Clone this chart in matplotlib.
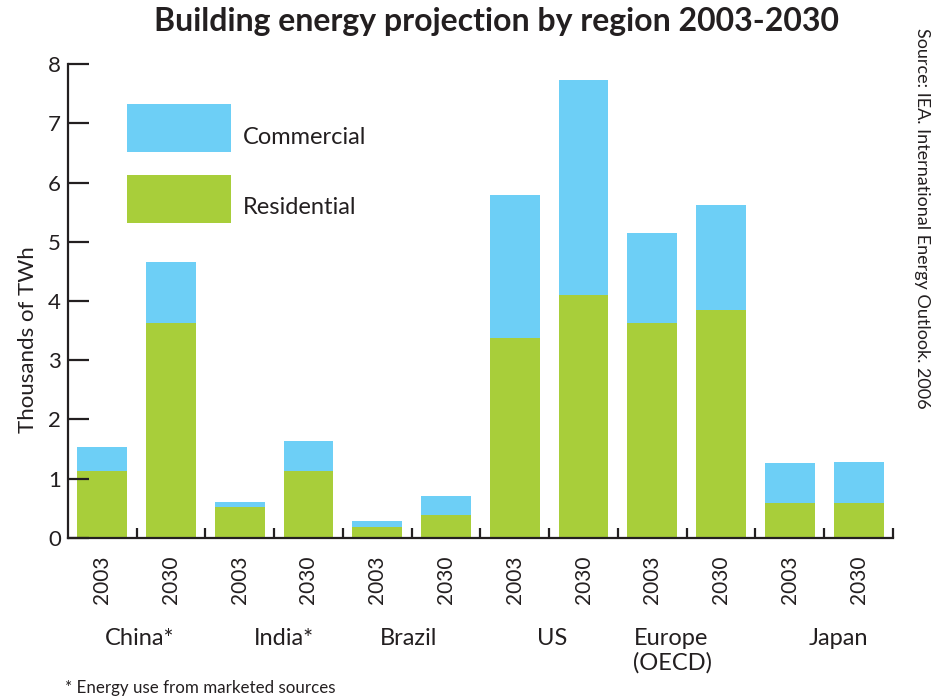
"""Building energy projection by region, stacked bars."""
import numpy as np
import matplotlib
matplotlib.use("Agg")
import matplotlib.pyplot as plt

plt.rcParams["font.family"] = ["Lato", "DejaVu Sans"]

regions = ["China*", "India*", "Brazil", "US", "Europe\n(OECD)", "Japan"]
years = ["2003", "2030"] * 6
residential = [1.12, 3.62, 0.51, 1.12, 0.18, 0.38, 3.38, 4.10, 3.62, 3.85, 0.59, 0.59]
total = [1.53, 4.66, 0.60, 1.63, 0.28, 0.70, 5.79, 7.73, 5.15, 5.62, 1.26, 1.28]
commercial = [t - r for t, r in zip(total, residential)]

BLUE = "#6dcff6"
GREEN = "#a8ce3a"
INK = "#231f20"

fig = plt.figure(figsize=(9.42, 6.99), dpi=100)
ax = fig.add_axes([0.0719, 0.2308, 0.948 - 0.0719, 0.908 - 0.2308])

x = np.arange(len(years))
ax.bar(x, residential, width=0.725, color=GREEN, linewidth=0)
ax.bar(x, commercial, width=0.725, bottom=residential, color=BLUE, linewidth=0)

ax.set_xlim(-0.5, 11.5)
ax.set_ylim(0, 8)
for s in ["top", "right"]:
    ax.spines[s].set_visible(False)
for s in ["left", "bottom"]:
    ax.spines[s].set_color(INK)
    ax.spines[s].set_linewidth(1.6)

ax.set_yticks(range(9))
ax.tick_params(axis="y", direction="in", length=15, width=1.6, color=INK,
               labelsize=16, labelcolor=INK, pad=5)
ax.set_xticks(x)
ax.set_xticklabels(years, rotation=90, fontsize=15, color=INK)
ax.tick_params(axis="x", which="major", length=0, pad=13)
ax.set_xticks(np.arange(0.5, 12, 1), minor=True)
ax.tick_params(axis="x", which="minor", direction="in", length=7, width=1.6, color=INK)

ax.set_ylabel("Thousands of TWh", fontsize=16, color=INK)
ax.yaxis.set_label_coords(-0.036, 0.418)

# region names under each pair of years
label_shift = [0.05, 0.15, -0.05, 0.05, -0.2, 0.2]
for i, name in enumerate(regions):
    xc = 2 * i + 0.5 + label_shift[i]
    ax.text(xc, -0.19, name, transform=ax.get_xaxis_transform(), ha="center", va="top",
            fontsize=17, color=INK, multialignment="left")

# legend drawn as plain boxes
fig.patches.append(plt.Rectangle((127 / 942, 1 - 152 / 699), 104 / 942, 48 / 699,
                                 transform=fig.transFigure, color=BLUE, lw=0))
fig.patches.append(plt.Rectangle((127 / 942, 1 - 223 / 699), 104 / 942, 48 / 699,
                                 transform=fig.transFigure, color=GREEN, lw=0))
fig.text(243 / 942, 1 - 137 / 699, "Commercial", fontsize=17, color=INK, va="center")
fig.text(243 / 942, 1 - 208 / 699, "Residential", fontsize=17, color=INK, va="center")

fig.text(497 / 942, 1 - 22 / 699, "Building energy projection by region 2003-2030",
         fontsize=23, fontweight="bold", color=INK, ha="center", va="center")
fig.text(922 / 942, 1 - 28 / 699, "Source: IEA. International Energy Outlook. 2006",
         rotation=-90, fontsize=13, color=INK, ha="center", va="top")
fig.text(65 / 942, 1 - 688 / 699, "* Energy use from marketed sources",
         fontsize=12.2, color=INK, ha="left", va="center")

fig.savefig("out.png", dpi=100)
